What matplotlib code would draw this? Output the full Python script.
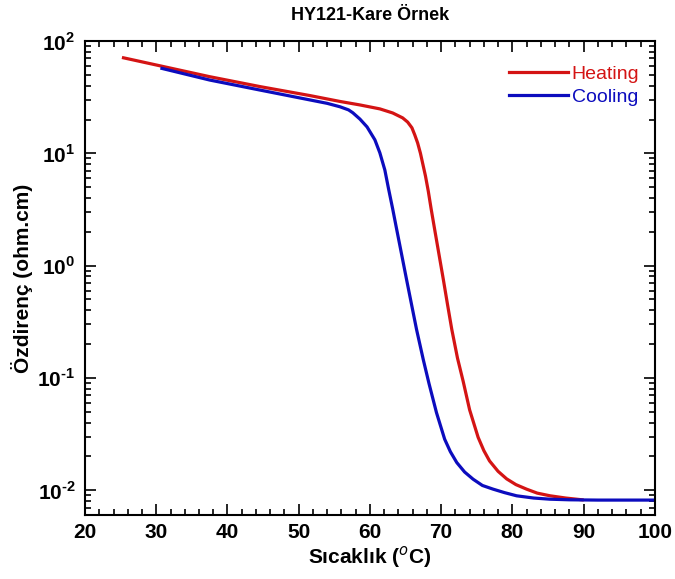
import matplotlib
matplotlib.use('Agg')
import matplotlib.pyplot as plt
from matplotlib.ticker import MultipleLocator, LogLocator, FixedLocator

plt.rcParams['font.family'] = ['Liberation Sans', 'DejaVu Sans']
plt.rcParams['mathtext.fontset'] = 'custom'
plt.rcParams['mathtext.rm'] = 'Liberation Sans:bold'
plt.rcParams['mathtext.bf'] = 'Liberation Sans:bold'

# Heating curve (T in C, resistivity in ohm.cm)
heat_T = [25.4, 30.5, 37.5, 44.6, 51.6, 55.8, 58.6, 61.4, 63.2, 64.6, 65.3,
          65.9, 66.3, 66.7, 67.1, 67.4, 67.8, 68.2, 68.6, 69.1, 69.7, 70.3,
          70.9, 71.5, 72.3, 73.1, 74.0, 75.2, 76.0, 76.8, 78.0, 79.2, 80.5,
          82.0, 83.5, 85.3, 87.5, 89.8]
heat_R = [71, 60.3, 48.2, 39.3, 32.7, 29.0, 27.0, 24.9, 22.9, 20.7, 19.0,
          16.9, 14.6, 12.4, 10.0, 8.2, 6.3, 4.6, 3.2, 2.09, 1.26, 0.76,
          0.45, 0.27, 0.15, 0.093, 0.052, 0.0295, 0.0225, 0.0182, 0.0147,
          0.0126, 0.0112, 0.0102, 0.0094, 0.0089, 0.0085, 0.0082]

# Cooling curve
cool_T = [30.8, 37.5, 44.6, 51.6, 54.0, 55.8, 57.0, 57.6, 58.6, 59.6, 60.7,
          61.4, 62.1, 62.6, 63.2, 63.7, 64.4, 65.15, 65.85, 66.55, 67.5,
          68.3, 69.35, 70.5, 71.3, 72.2, 73.3, 74.5, 75.8, 77.3, 78.9, 80.6,
          83.0, 85.3, 88.0, 92.0, 100.0]
cool_R = [57.1, 45.0, 36.6, 29.9, 27.9, 26.0, 24.4, 23.0, 20.2, 17.2, 13.2,
          10.1, 7.1, 4.9, 3.2, 2.2, 1.31, 0.75, 0.45, 0.27, 0.145, 0.089,
          0.049, 0.0284, 0.022, 0.0176, 0.0145, 0.0125, 0.011, 0.0102,
          0.0095, 0.0089, 0.0085, 0.0083, 0.0082, 0.00815, 0.00815]

yticks = [0.01, 0.1, 1, 10, 100]
ylabels = [r'$10^{\text{-}2}$', r'$10^{\text{-}1}$', r'$10^{0}$', r'$10^{1}$', r'$10^{2}$']

fig = plt.figure(figsize=(6.75, 5.79), dpi=100)
ax = fig.add_axes([0.126, 0.1105, 0.844, 0.8185])

ax.plot(heat_T, heat_R, color='#d41414', lw=2.3, label='Heating',
        solid_joinstyle='round')
ax.plot(cool_T, cool_R, color='#0c0cbe', lw=2.3, label='Cooling',
        solid_joinstyle='round')

ax.set_yscale('log')
ax.set_xlim(20, 100)
ax.set_ylim(0.006, 100)
ax.xaxis.set_major_locator(MultipleLocator(10))
ax.xaxis.set_minor_locator(MultipleLocator(2))
ax.yaxis.set_major_locator(FixedLocator(yticks))
ax.yaxis.set_minor_locator(LogLocator(base=10, subs=range(2, 10)))
ax.set_yticklabels(ylabels)

ax.tick_params(which='both', direction='in', top=True, right=True, width=1.2)
ax.tick_params(which='major', length=8, labelsize=15)
ax.tick_params(axis='x', which='major', pad=6)
ax.tick_params(axis='y', which='major', pad=7)
ax.tick_params(which='minor', length=4)
for lbl in ax.get_xticklabels():
    lbl.set_fontweight('bold')
for s in ax.spines.values():
    s.set_linewidth(1.5)

ax.set_title('HY121-Kare Örnek', fontsize=13, fontweight='bold', pad=15)
ax.set_xlabel(r'Sıcaklık ($^{o}$C)', fontsize=15, fontweight='bold', labelpad=1)
ax.set_ylabel('Özdirenç (ohm.cm)', fontsize=15, fontweight='bold', labelpad=3)

leg = ax.legend(loc='upper right', bbox_to_anchor=(1.0, 0.981), frameon=False,
                fontsize=14, handlelength=3.0, handletextpad=0.2,
                labelspacing=0.25, borderaxespad=0.4)
for txt, line in zip(leg.get_texts(), leg.get_lines()):
    txt.set_color(line.get_color())

plt.savefig('out.png', dpi=100)
